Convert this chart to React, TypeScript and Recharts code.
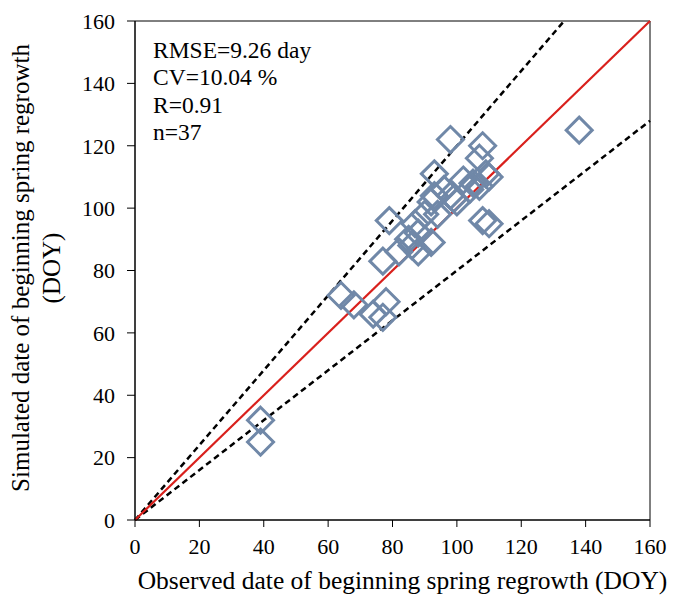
import React from 'react';
import {
  ScatterChart,
  Scatter,
  XAxis,
  YAxis,
  ReferenceLine,
  ReferenceArea,
  Customized,
} from 'recharts';

const observed = [
  138, 39, 39, 98, 108, 107, 93, 109, 102, 107, 110, 98, 92, 100, 96, 104, 108,
  110, 79, 87, 90, 88, 77, 82, 88, 92, 85, 64, 68, 74, 78, 77, 94, 105, 99, 93, 86,
];
const simulated = [
  125, 32, 25, 122, 120, 116, 111, 111, 109, 107, 110, 104, 102, 102, 106, 106, 96,
  95, 96, 95, 98, 92, 83, 86, 86, 89, 90, 72, 69, 66, 70, 65, 98, 108, 103, 104, 88,
];
const ticks = [0, 20, 40, 60, 80, 100, 120, 140, 160];
const stats = ['RMSE=9.26 day', 'CV=10.04 %', 'R=0.91', 'n=37'];

const points = observed.map((x, i) => ({ x, y: simulated[i] }));

const font = '"Liberation Serif", "Times New Roman", serif';

const Diamond = (props: any) => {
  const { cx, cy } = props;
  const r = 13;
  return (
    <path
      d={`M${cx},${cy - r}L${cx + r},${cy}L${cx},${cy + r}L${cx - r},${cy}Z`}
      fill="none"
      stroke="#7088a8"
      strokeWidth={3}
    />
  );
};

const YTitle = () => (
  <g fontFamily={font} fontSize={25} fill="#000">
    <text x={23} y={268} textAnchor="middle" transform="rotate(-90 23 268)" dominantBaseline="middle">
      Simulated date of beginning spring regrowth
    </text>
    <text x={54} y={268} textAnchor="middle" transform="rotate(-90 54 268)" dominantBaseline="middle">
      (DOY)
    </text>
  </g>
);

const Stats = () => (
  <g fontFamily={font} fontSize={23.5} fill="#000">
    {stats.map((s, i) => (
      <text key={s} x={153} y={58 + i * 27.3}>
        {s}
      </text>
    ))}
  </g>
);

export default function App() {
  return (
    <div style={{ position: 'absolute', left: 0, top: 0, background: '#fff' }}>
      <ScatterChart
        width={681}
        height={597}
        margin={{ top: 21, right: 31, bottom: 0, left: 0 }}
      >
        <XAxis
          type="number"
          dataKey="x"
          domain={[0, 160]}
          ticks={ticks}
          allowDataOverflow
          height={77}
          stroke="#000"
          tickSize={7}
          tick={{ fontFamily: font, fontSize: 22, fill: '#000' }}
          tickMargin={11}
          label={{
            value: 'Observed date of beginning spring regrowth (DOY)',
            position: 'insideBottom',
            offset: 8,
            dx: 10,
            style: { fontFamily: font, fontSize: 25.5, fill: '#000' },
          }}
        />
        <YAxis
          type="number"
          dataKey="y"
          domain={[0, 160]}
          ticks={ticks}
          allowDataOverflow
          width={135}
          stroke="#000"
          tickSize={8}
          tick={{ fontFamily: font, fontSize: 22, fill: '#000' }}
          tickMargin={12}
        />
        <ReferenceArea x1={0} x2={160} y1={0} y2={160} fill="none" stroke="#000" strokeWidth={1} />
        <ReferenceLine
          segment={[{ x: 0, y: 0 }, { x: 133.33, y: 160 }]}
          stroke="#000"
          strokeWidth={2.5}
          strokeDasharray="6 4"
        />
        <ReferenceLine
          segment={[{ x: 0, y: 0 }, { x: 160, y: 128 }]}
          stroke="#000"
          strokeWidth={2.5}
          strokeDasharray="6 4"
        />
        <ReferenceLine
          segment={[{ x: 0, y: 0 }, { x: 160, y: 160 }]}
          stroke="#d9201c"
          strokeWidth={2.2}
        />
        <Scatter data={points} shape={<Diamond />} isAnimationActive={false} />
        <Customized component={YTitle} />
        <Customized component={Stats} />
      </ScatterChart>
    </div>
  );
}
